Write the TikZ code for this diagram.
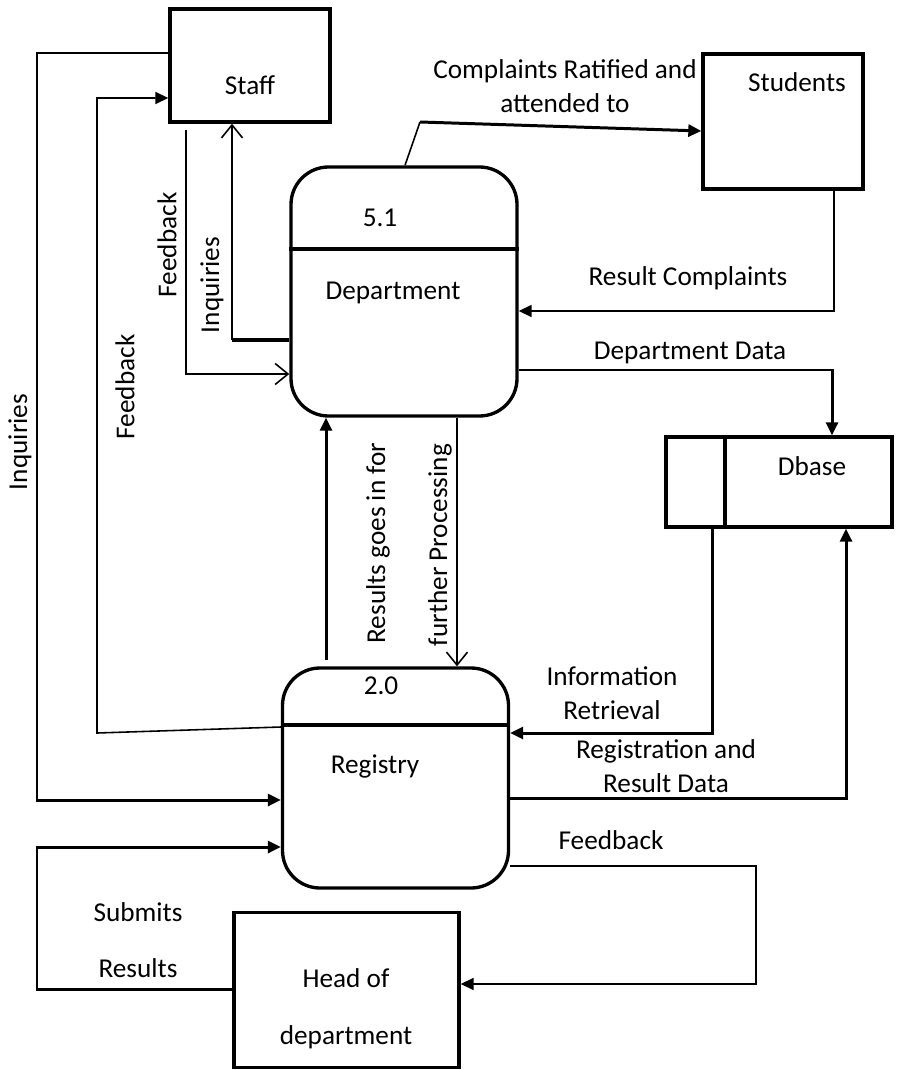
\documentclass[tikz,border=0pt]{standalone}
\usepackage{fontspec}
\setmainfont{Carlito}
\usetikzlibrary{arrows.meta,positioning}

\begin{document}
\begin{tikzpicture}[x=0.2mm, y=-0.2mm,
        font=\fontsize{15.5}{19}\selectfont,
        entity/.style={draw, line width=1.9pt, minimum width=32mm},
        proc/.style={draw, line width=1.9pt, rounded corners=7.5mm, minimum width=45.2mm},
        flow/.style={line width=1.7pt, -{Triangle[length=2.6mm,width=2.4mm]}},
        thinflow/.style={line width=0.9pt, -{Triangle[length=2.6mm,width=2.4mm]}},
        openflow/.style={line width=0.9pt, -{Straight Barb[length=2.6mm,width=4.2mm]}},
        lbl/.style={align=center, inner sep=1pt}]
    \useasboundingbox (0,0) rectangle (899,1070);

    % external entities and processes
    \node[entity, minimum height=22.6mm] (staff) at (250,65.5) {};
    \node[entity, minimum height=27mm] (students) at (783,121.5) {};
    \node[proc, minimum height=49.8mm] (dept) at (404,291.5) {};
    \node[proc, minimum height=44mm] (reg) at (395.5,778) {};
    \node[draw, line width=1.9pt, minimum width=45.2mm, minimum height=18mm] (dbase) at (779,482) {};
    \node[draw, line width=1.9pt, minimum width=45mm, minimum height=31mm] (head) at (346.5,990) {};

    % dividers
    \draw[line width=1.9pt] (dept.west |- 0,249) -- (dept.east |- 0,249);
    \draw[line width=1.9pt] (reg.west |- 0,725) -- (reg.east |- 0,725);
    \draw[line width=1.9pt] (dbase.north -| 725,0) -- (dbase.south -| 725,0);

    % texts in the boxes
    \node (tstaff) at (250,85) {Staff};
    \node (tstud) at (797,82) {Students};
    \node (tdeptno) at (380,218) {5.1};
    \node (tdept) at (393,293) {Department};
    \node (tregno) at (381,686) {2.0};
    \node (treg) at (375,766) {Registry};
    \node (tdbase) at (812,466) {Dbase};
    \node (thead) at (346,978) {Head of};
    \node (thead2) at (346,1037) {department};

    % staff <-> registry
    \draw[flow] (staff.west |- 0,53) -- (37,53) |- (reg.west |- 0,800);
    \draw[thinflow] (reg.west |- 0,727) -- (97,733) |- (staff.west |- 0,98);
    % staff <-> department
    \coordinate (fbstart) at (186,130);
    \draw[openflow] (fbstart) |- (dept.west |- 0,374);
    \draw[line width=1.9pt] (dept.west |- 0,340) -- (232,340);
    \draw[openflow] (232,340) -- (staff.south -| 232,0);
    % department <-> students
    \draw[line width=0.9pt] (dept.north -| 405,0) -- (420,122);
    \draw[flow] (420,122) -- (students.west |- 0,131);
    \draw[thinflow] (students.south -| 834,0) |- (dept.east |- 0,311);
    % department -> dbase
    \draw[flow] (dept.east |- 0,370) -| (dbase.north -| 832,0);
    % department <-> registry
    \draw[openflow] (dept.south -| 457,0) -- (reg.north -| 457,0);
    \draw[flow] ([yshift=1.2mm]reg.north -| 326,0) -- (dept.south -| 326,0);
    % dbase <-> registry
    \draw[flow] (dbase.south -| 712,0) |- (reg.east |- 0,733);
    \draw[flow] (reg.east |- 0,798) -| (dbase.south -| 846,0);
    % registry <-> head of department
    \draw[thinflow] (reg.east |- 0,866) -- (756,866) |- (head.east |- 0,984);
    \draw[flow] (head.west |- 0,989) -- (37,989) |- (reg.west |- 0,847);

    % flow labels
    \node[lbl] (lcompl) at (565,86) {Complaints Ratified and\\attended to};
    \node[lbl] (lrescompl) at (688,278) {Result Complaints};
    \node[lbl] (ldeptdata) at (690,353) {Department Data};
    \node[lbl] (linfo) at (612,693) {Information\\Retrieval};
    \node[lbl] (lregdata) at (666,766) {Registration and\\Result Data};
    \node[lbl] (lfbhead) at (611,840) {Feedback};
    \node[lbl] (lsubmits) at (138,912) {Submits};
    \node[lbl] (lresults) at (138,968) {Results};
    \node[lbl, rotate=90] (linqout) at (20,442) {Inquiries};
    \node[lbl, rotate=90] (lfbout) at (125,387) {Feedback};
    \node[lbl, rotate=90] (lfbstaff) at (167,245) {Feedback};
    \node[lbl, rotate=90] (linqstaff) at (212,285) {Inquiries};
    \node[lbl, rotate=90] (lresgo) at (378,543) {Results goes in for};
    \node[lbl, rotate=90] (lfurther) at (440,545) {further Processing};
\end{tikzpicture}
\end{document}
